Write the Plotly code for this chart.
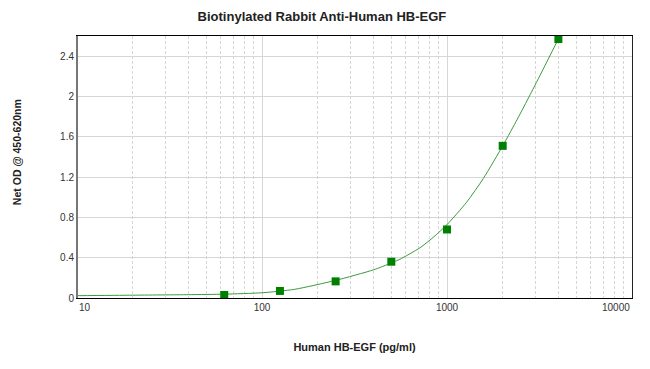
import math
import plotly.graph_objects as go

conc = [62.5, 125, 250, 500, 1000, 2000, 4000]
od = [0.03, 0.07, 0.165, 0.36, 0.68, 1.51, 2.57]

fit_x = [10, 20, 40, 62.5, 100, 150, 250, 400, 500, 557, 714, 850, 1000, 1277, 1571,
         2015, 2400, 2812, 3300, 4000]
fit_y = [0.023, 0.028, 0.033, 0.038, 0.052, 0.086, 0.175, 0.279, 0.347, 0.385, 0.498,
         0.608, 0.728, 0.951, 1.185, 1.52, 1.775, 2.016, 2.266, 2.571]

y_ticks = [0, 0.4, 0.8, 1.2, 1.6, 2, 2.4]
y_labels = ["0", "0.4", "0.8", "1.2", "1.6", "2", "2.4"]
x_ticks = [10, 100, 1000, 10000]
x_labels = ["10", "100", "1000", "10000"]

fig = go.Figure()
fig.add_trace(go.Scatter(x=fit_x, y=fit_y, mode="lines",
                         line=dict(color="#3c9a3c", width=1, shape="spline", smoothing=0.6),
                         hoverinfo="skip", showlegend=False))
fig.add_trace(go.Scatter(x=conc, y=od, mode="markers",
                         marker=dict(symbol="square", size=8, color="#008000",
                                     line=dict(width=0)),
                         showlegend=False))

tick_font = dict(family="Liberation Sans, Arial, sans-serif", size=10, color="#333333")
title_font = dict(family="Liberation Sans, Arial, sans-serif", size=11, color="#222222")

# page body has an 8px margin, so the figure is 8px smaller and shifted accordingly
fig.update_layout(
    width=642, height=361,
    margin=dict(l=69, r=18, t=28, b=71),
    paper_bgcolor="white", plot_bgcolor="white",
    font=tick_font,
    title=dict(text="<b>Biotinylated Rabbit Anti-Human HB-EGF</b>",
               x=0.489, xanchor="center", y=0.977, yanchor="middle",
               font=dict(size=13, color="#222222")),
)
fig.update_xaxes(
    type="log", range=[1, 4], tickvals=x_ticks[1:-1], ticktext=x_labels[1:-1],
    showgrid=True, gridcolor="#d6d6d6", gridwidth=1,
    minor=dict(dtick="D1", showgrid=True, gridcolor="#d6d6d6", griddash="3px,2px"),
    showline=True, linecolor="black", linewidth=1, mirror=True,
    ticks="", zeroline=False, automargin=False,
    title=dict(text="<b>Human HB-EGF (pg/ml)</b>", font=title_font, standoff=31),
)
for v, t, anc in [(x_ticks[0], x_labels[0], "left"), (x_ticks[-1], x_labels[-1], "right")]:
    fig.add_annotation(x=math.log10(v), y=0, xref="x", yref="paper", text=t,
                       showarrow=False, xanchor=anc, yanchor="top", yshift=-2,
                       font=tick_font)
fig.update_yaxes(
    range=[0, 2.6], tickvals=y_ticks, ticktext=y_labels,
    showgrid=True, gridcolor="#d6d6d6", gridwidth=1,
    showline=True, linecolor="#222222", linewidth=1, mirror=True,
    ticks="", zeroline=False, automargin=False,
)
fig.add_annotation(text="<b>Net OD @ 450-620nm</b>", textangle=-90, showarrow=False,
                   xref="paper", yref="paper", x=-0.108, y=0.557,
                   xanchor="center", yanchor="middle", font=dict(family="Liberation Sans, Arial, sans-serif", size=10.5, color="#222222"))
fig.add_shape(type="line", xref="paper", yref="paper", x0=0, x1=0, y0=0, y1=1,
              line=dict(color="#777777", width=2))
fig.write_html("out.html")
